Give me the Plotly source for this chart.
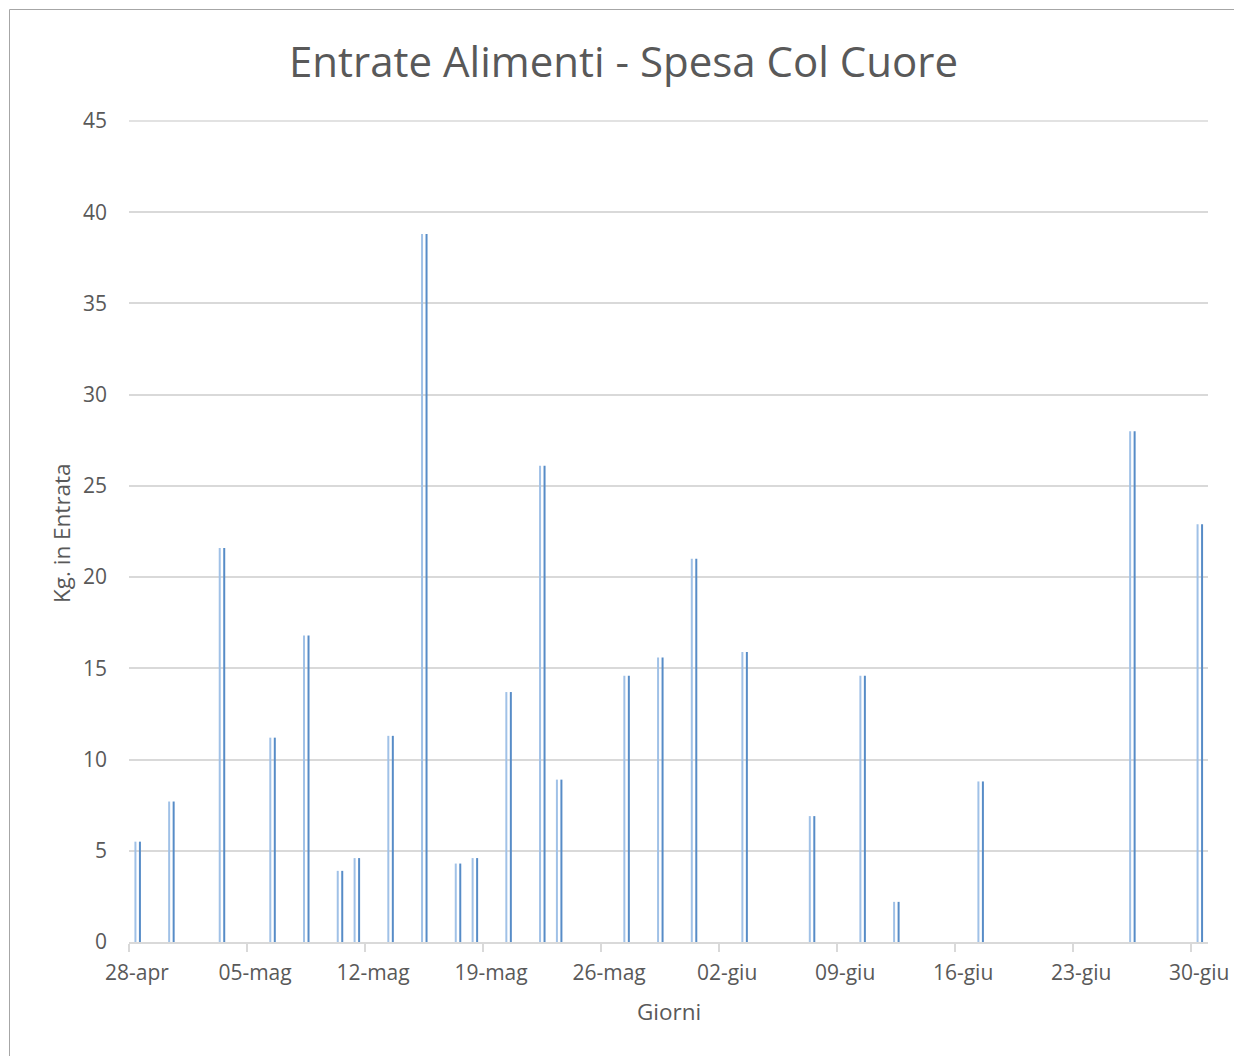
import plotly.graph_objects as go

# ---- data ----
dates = ["2020-04-28", "2020-04-30", "2020-05-03", "2020-05-06", "2020-05-08",
         "2020-05-10", "2020-05-11", "2020-05-13", "2020-05-15", "2020-05-17",
         "2020-05-18", "2020-05-20", "2020-05-22", "2020-05-23", "2020-05-27",
         "2020-05-29", "2020-05-31", "2020-06-03", "2020-06-07", "2020-06-10",
         "2020-06-12", "2020-06-17", "2020-06-26", "2020-06-30"]
kg = [5.5, 7.7, 21.6, 11.2, 16.8, 3.9, 4.6, 11.3, 38.8, 4.3, 4.6, 13.7,
      26.1, 8.9, 14.6, 15.6, 21.0, 15.9, 6.9, 14.6, 2.2, 8.8, 28.0, 22.9]
tick_dates = ["2020-04-28", "2020-05-05", "2020-05-12", "2020-05-19", "2020-05-26",
              "2020-06-02", "2020-06-09", "2020-06-16", "2020-06-23", "2020-06-30"]
tick_labels = ["28-apr", "05-mag", "12-mag", "19-mag", "26-mag",
               "02-giu", "09-giu", "16-giu", "23-giu", "30-giu"]
x_range = ["2020-04-28", "2020-07-01"]
y_ticks = [0, 5, 10, 15, 20, 25, 30, 35, 40, 45]

# ---- layout geometry ----
W, H = 1234, 1056
L, R, T, B = 129, 26, 121, 114
PW, PH = W - L - R, H - T - B
DAY_MS = 86400000
DAY_PX = PW / 64.0
MS_PX = DAY_MS / DAY_PX
HALF_DAY = DAY_MS / 2

FONT = "Open Sans"
TXT = "#595959"
GRID = "#D9D9D9"

fig = go.Figure()
fig.add_trace(go.Bar(
    x=dates, y=kg, name="light",
    offset=HALF_DAY - 3.0 * MS_PX, width=2.0 * MS_PX,
    marker=dict(color="#A0C1E7", line=dict(width=0)),
    hoverinfo="x+y", showlegend=False))
fig.add_trace(go.Bar(
    x=dates, y=kg, name="dark",
    offset=HALF_DAY + 1.5 * MS_PX, width=2.0 * MS_PX,
    marker=dict(color="#578CC7", line=dict(width=0)),
    hoverinfo="x+y", showlegend=False))

def px_x(p):
    return (p - L) / PW

def px_y(p):
    return (H - B - p) / PH

fig.update_layout(
    width=W, height=H,
    margin=dict(l=L, r=R, t=T, b=B, pad=0, autoexpand=False),
    paper_bgcolor="white", plot_bgcolor="white",
    barmode="overlay",
    font=dict(family=FONT, color=TXT),
    title=dict(text="Entrate Alimenti - Spesa Col Cuore",
               x=623.5 / W, xanchor="center",
               y=1 - 62 / H, yanchor="middle",
               font=dict(size=42, color=TXT, family=FONT)),
    xaxis=dict(type="date", range=x_range, automargin=False,
               tickvals=tick_dates, ticktext=tick_labels,
               ticklabelshift=int(round(DAY_PX / 2)),
               ticks="outside", ticklen=8, tickcolor=GRID, tickwidth=1.5,
               showline=True, linecolor=GRID, linewidth=1.5,
               showgrid=False, zeroline=False,
               ticklabelstandoff=3,
               tickfont=dict(size=21, color=TXT, family=FONT)),
    yaxis=dict(range=[0, 45], tickvals=y_ticks, automargin=False,
               showgrid=True, gridcolor=GRID, gridwidth=1.5,
               zeroline=False, showline=False, ticks="",
               ticklabelstandoff=21,
               tickfont=dict(size=21, color=TXT, family=FONT)),
    annotations=[
        dict(text="Giorni", xref="paper", yref="paper",
             x=px_x(669), y=px_y(1012), xanchor="center", yanchor="middle",
             showarrow=False, font=dict(size=22.5, color=TXT, family=FONT)),
        dict(text="Kg. in Entrata", xref="paper", yref="paper",
             x=px_x(61), y=px_y(533), xanchor="center", yanchor="middle",
             textangle=-90, showarrow=False,
             font=dict(size=22.5, color=TXT, family=FONT)),
    ],
    shapes=[
        # top gridline (plotly drops the gridline lying on the range edge)
        dict(type="line", xref="paper", yref="paper",
             x0=0, x1=1, y0=1, y1=1,
             line=dict(color=GRID, width=1.5), layer="below"),
        dict(type="line", xref="paper", yref="paper",
             x0=px_x(9.5), x1=px_x(9.5), y0=px_y(H + 2), y1=px_y(9.5),
             line=dict(color="#A6A6A6", width=1), layer="below"),
        dict(type="line", xref="paper", yref="paper",
             x0=px_x(9.5), x1=px_x(W + 2), y0=px_y(9.5), y1=px_y(9.5),
             line=dict(color="#A6A6A6", width=1), layer="below"),
    ],
)

fig.write_html("out.html", config={"displayModeBar": False},
               post_script="document.body.style.margin='0';")
